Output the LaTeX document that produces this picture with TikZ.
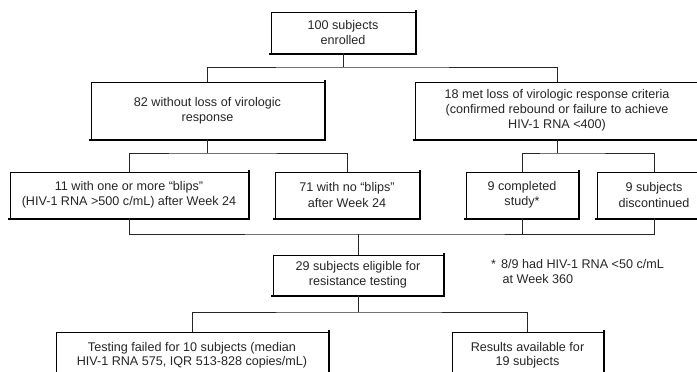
\documentclass[tikz,border=0pt]{standalone}
\usepackage{fontspec}
\setmainfont{Liberation Sans}
\usetikzlibrary{positioning,calc}

\begin{document}
\begin{tikzpicture}[x=1pt, y=-1pt,
    caixa/.style={draw=black, line width=0.8pt, fill=white, align=center,
                  text=black!85, inner sep=0pt, font=\fontsize{12.6}{15.2}\selectfont},
    sombra/.style={draw=black, line width=2.4pt, line cap=rect},
    liga/.style={draw=black!85, line width=0.7pt},
    nota/.style={align=left, text=black!85, inner sep=0pt, font=\fontsize{12.6}{15.2}\selectfont}]
  \useasboundingbox (0,0) rectangle (697,372);
  \clip (0,0) rectangle (697,372);
  % boxes
  \node[caixa, minimum width=144pt, minimum height=41pt] (inicio) at (343,32.5) {100 subjects\\enrolled};
  \node[caixa, minimum width=233pt, minimum height=57pt] (semperda) at (207.5,110.5) {82 without loss of virologic\\response};
  \node[caixa, minimum width=284pt, minimum height=57pt] (perda) at (557,110.5) {18 met loss of virologic response criteria\\(confirmed rebound or failure to achieve\\HIV-1 RNA <400)};
  \node[caixa, minimum width=238pt, minimum height=46pt] (blips) at (129,195) {11 with one or more “blips”\\(HIV-1 RNA >500 c/mL) after Week 24};
  \node[caixa, minimum width=144pt, minimum height=46pt] (semblips) at (347,195) {71 with no “blips”\\after Week 24};
  \node[caixa, minimum width=112pt, minimum height=46pt] (completo) at (522,195) {9 completed\\study*};
  \node[caixa, minimum width=114pt, minimum height=46pt] (descont) at (654,195) {9 subjects\\discontinued};
  \node[caixa, minimum width=170pt, minimum height=40pt] (eleg) at (358,275) {29 subjects eligible for\\resistance testing};
  \node[caixa, minimum width=272pt, minimum height=46pt, font=\fontsize{12.6}{14}\selectfont] (falha) at (192,355) {Testing failed for 10 subjects (median\\HIV-1 RNA 575, IQR 513-828 copies/mL)};
  \node[caixa, minimum width=151pt, minimum height=46pt, font=\fontsize{12.6}{14}\selectfont] (result) at (527.5,355) {Results available for\\19 subjects};
  \node[nota, anchor=north west] (rodape) at (491,259) {*\hspace{5pt}8/9 had HIV-1 RNA <50 c/mL\\\hspace{11.5pt}at Week 360};
  % heavier right and bottom edges
  \foreach \n in {inicio,semperda,perda,blips,semblips,completo,descont,eleg,falha,result}{
    \draw[sombra] ($(\n.north east)+(0.8,0)$) -- ($(\n.south east)+(0.8,0.8)$) -- ($(\n.south west)+(0,0.8)$);
  }
  % connectors
  \coordinate (j1) at (343,67);
  \coordinate (j2) at (207.5,153);
  \coordinate (j3) at (557,153);
  \coordinate (j4) at (358,234);
  \coordinate (j5) at (358,312);
  \draw[liga] (inicio.south) -- (j1);
  \draw[liga] (semperda.north) |- (j1) -| (perda.north);
  \draw[liga] (semperda.south) -- (j2);
  \draw[liga] (blips.north) |- (j2) -| (semblips.north);
  \draw[liga] (perda.south) -- (j3);
  \draw[liga] (completo.north) |- (j3) -| (descont.north);
  \draw[liga] (blips.south) |- (j4) -| (descont.south);
  \draw[liga] (completo.south) -- (completo.south |- j4);
  \draw[liga] (j4) -- (eleg.north);
  \draw[liga] (eleg.south) -- (j5);
  \draw[liga] (falha.north) |- (j5) -| (result.north);
\end{tikzpicture}
\end{document}
